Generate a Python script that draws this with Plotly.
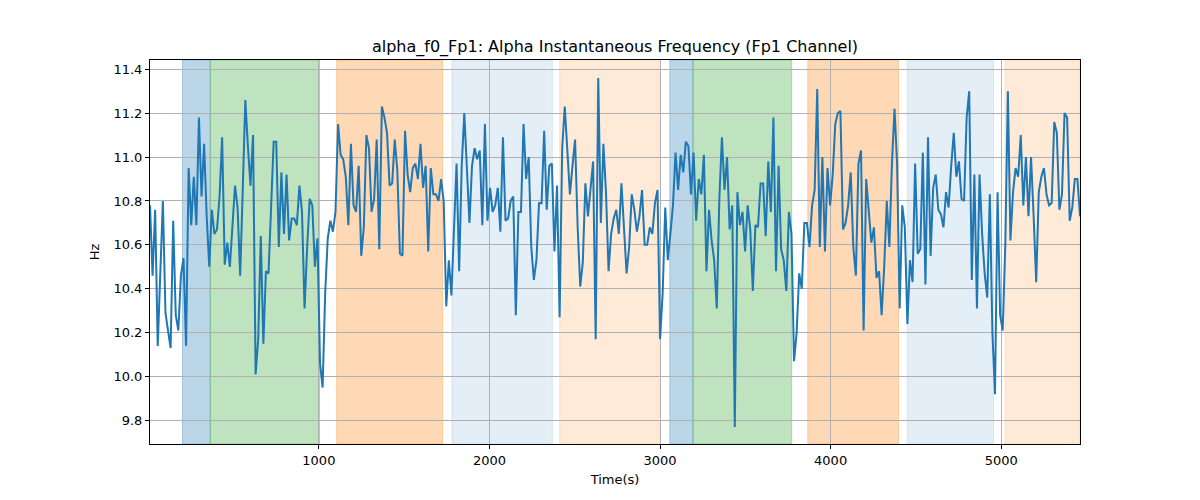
import numpy as np
import plotly.graph_objects as go

title = "alpha_f0_Fp1: Alpha Instantaneous Frequency (Fp1 Channel)"
t_start, t_end = 10.0, 5462.0

freq_hz = [
    # segment 1
    10.78, 10.46, 10.76, 10.14, 10.47, 10.80, 10.29, 10.21, 10.13, 10.71, 10.28, 10.21, 10.46, 10.54, 10.14, 10.95,
    10.69, 10.91, 10.69, 11.18, 10.82, 11.06, 10.73, 10.50, 10.76, 10.65, 10.67, 10.82, 11.09, 10.51, 10.61, 10.50,
    10.68, 10.87, 10.77, 10.46,
    # segment 2
    10.85, 11.26, 11.05, 10.87, 11.10, 10.01, 10.17, 10.64, 10.15, 10.48, 10.47, 10.76, 11.07, 11.07, 10.59, 10.93,
    10.65, 10.92, 10.62, 10.72, 10.72, 10.69, 10.87, 10.75, 10.31, 10.59, 10.81, 10.78, 10.50, 10.63, 10.06, 9.95,
    10.38, 10.63, 10.71, 10.66,
    # segment 3
    10.75, 11.15, 11.01, 10.99, 10.91, 10.69, 11.06, 10.78, 10.75, 10.96, 10.55, 10.68, 11.10, 11.04, 10.75, 10.81,
    11.08, 10.58, 11.23, 11.18, 11.11, 10.87, 10.88, 11.08, 10.94, 10.56, 10.55, 11.12, 10.92, 10.84, 10.95, 10.97,
    10.90, 11.06, 10.86, 10.96,
    # segment 4
    10.57, 10.95, 10.83, 10.83, 10.80, 10.90, 10.80, 10.32, 10.53, 10.37, 10.68, 10.97, 10.48, 10.96, 11.20, 10.94,
    10.70, 10.96, 11.04, 10.99, 11.03, 10.69, 11.15, 10.71, 10.86, 10.75, 10.78, 10.86, 10.66, 11.09, 10.71, 10.72,
    10.80, 10.82, 10.28,
    # segment 5
    10.75, 10.75, 11.15, 10.90, 11.00, 10.59, 10.44, 10.53, 10.79, 10.79, 11.12, 10.76, 10.96, 10.97, 10.57, 10.87,
    10.27, 11.04, 11.23, 11.01, 10.83, 10.96, 11.08, 10.68, 10.41, 10.52, 10.88, 10.73, 10.86, 10.98, 10.17, 11.36,
    10.70, 11.06, 10.84, 10.48,
    # segment 6
    10.65, 10.72, 10.76, 10.65, 10.88, 10.65, 10.47, 10.59, 10.83, 10.76, 10.66, 10.73, 10.85, 10.60, 10.60, 10.68,
    10.65, 10.79, 10.85, 10.17, 10.38, 10.77, 10.53, 10.65, 10.78, 11.02, 10.85, 11.01, 10.93, 11.07, 11.05, 10.83,
    11.02, 10.71, 10.90, 10.83, 11.01,
    # segment 7
    10.48, 10.76, 10.62, 10.53, 10.31, 10.81, 11.09, 10.85, 11.00, 10.67, 10.78, 9.77, 10.84, 10.69, 10.75, 10.57,
    10.78, 10.67, 10.39, 10.69, 10.68, 10.88, 10.88, 10.64, 10.98, 10.75, 11.18, 10.48, 10.96, 10.58, 10.53, 10.39,
    10.75, 10.65, 10.07,
    # segment 8
    10.20, 10.47, 10.40, 10.70, 10.70, 10.59, 10.78, 10.85, 11.31, 10.59, 11.00, 10.57, 10.95, 10.78, 10.92, 11.15,
    11.20, 11.21, 10.67, 10.70, 10.78, 10.93, 10.59, 10.46, 10.97, 11.03, 10.21, 10.90, 10.76, 10.61, 10.68, 10.45,
    10.48, 10.28, 10.50, 10.80,
    # segment 9
    10.59, 10.97, 11.22, 10.97, 10.31, 10.78, 10.68, 10.24, 10.53, 10.43, 10.97, 10.56, 10.58, 11.02, 10.42, 11.09,
    10.55, 10.86, 10.92, 10.76, 10.74, 10.68, 10.84, 10.77, 10.96, 11.11, 10.91, 10.98, 10.81, 10.80, 11.18, 11.30,
    10.44, 10.92, 10.31,
    # segment 10
    10.92, 10.65, 10.47, 10.36, 10.83, 10.20, 9.92, 10.84, 10.28, 10.21, 10.60, 11.30, 10.62, 10.84, 10.95, 10.91,
    11.10, 10.78, 11.00, 10.73, 11.00, 10.73, 10.43, 10.84, 10.91, 10.95, 10.83, 10.78, 10.79, 11.16, 11.11, 10.76,
    10.83, 11.20, 11.18, 10.71, 10.77, 10.90, 10.90, 10.73,
]

time_s = np.linspace(t_start, t_end, len(freq_hz))

# shaded stage intervals
span_starts = [200, 363, 1104, 1780, 2412, 3057, 3193, 3866, 4449, 5022]
span_ends = [363, 1004, 1725, 2369, 2995, 3193, 3772, 4398, 4955, 5462]
span_colors = [
    "rgba(31,119,180,0.3)", "rgba(44,160,44,0.3)", "rgba(255,127,14,0.3)",
    "rgba(31,119,180,0.12)", "rgba(255,127,14,0.16)",
    "rgba(31,119,180,0.3)", "rgba(44,160,44,0.3)", "rgba(255,127,14,0.3)",
    "rgba(31,119,180,0.12)", "rgba(255,127,14,0.16)",
]

x_ticks = [1000, 2000, 3000, 4000, 5000]
y_ticks = [9.8, 10.0, 10.2, 10.4, 10.6, 10.8, 11.0, 11.2, 11.4]

fig = go.Figure()
for s, e, c in zip(span_starts, span_ends, span_colors):
    fig.add_vrect(x0=s, x1=e, fillcolor=c, line=dict(width=1, color=c), layer="below")

fig.add_trace(go.Scatter(x=time_s, y=freq_hz, mode="lines",
                         line=dict(color="#1f77b4", width=2), showlegend=False))

axis_common = dict(showline=True, linecolor="black", linewidth=1, mirror=True,
                   ticks="outside", tickcolor="black", ticklen=4,
                   showgrid=True, gridcolor="#b0b0b0", gridwidth=1, zeroline=False,
                   tickfont=dict(family="DejaVu Sans", size=13, color="black"))

fig.update_layout(
    width=1200, height=500,
    margin=dict(l=142, r=128, t=52, b=64),
    paper_bgcolor="white", plot_bgcolor="white",
    title=dict(text=title, x=607 / 1200, xanchor="center", y=1 - 38 / 500, yanchor="middle",
               font=dict(family="DejaVu Sans", size=16, color="black")),
    font=dict(family="DejaVu Sans", color="black"),
)
fig.update_xaxes(range=[t_start, t_end], tickvals=x_ticks,
                 title=dict(text="Time(s)", font=dict(size=13), standoff=8), **axis_common)
fig.update_yaxes(range=[9.693, 11.442], tickvals=y_ticks, tickformat=".1f",
                 title=dict(text="Hz", font=dict(size=13), standoff=10), **axis_common)

fig.write_html("out.html")
